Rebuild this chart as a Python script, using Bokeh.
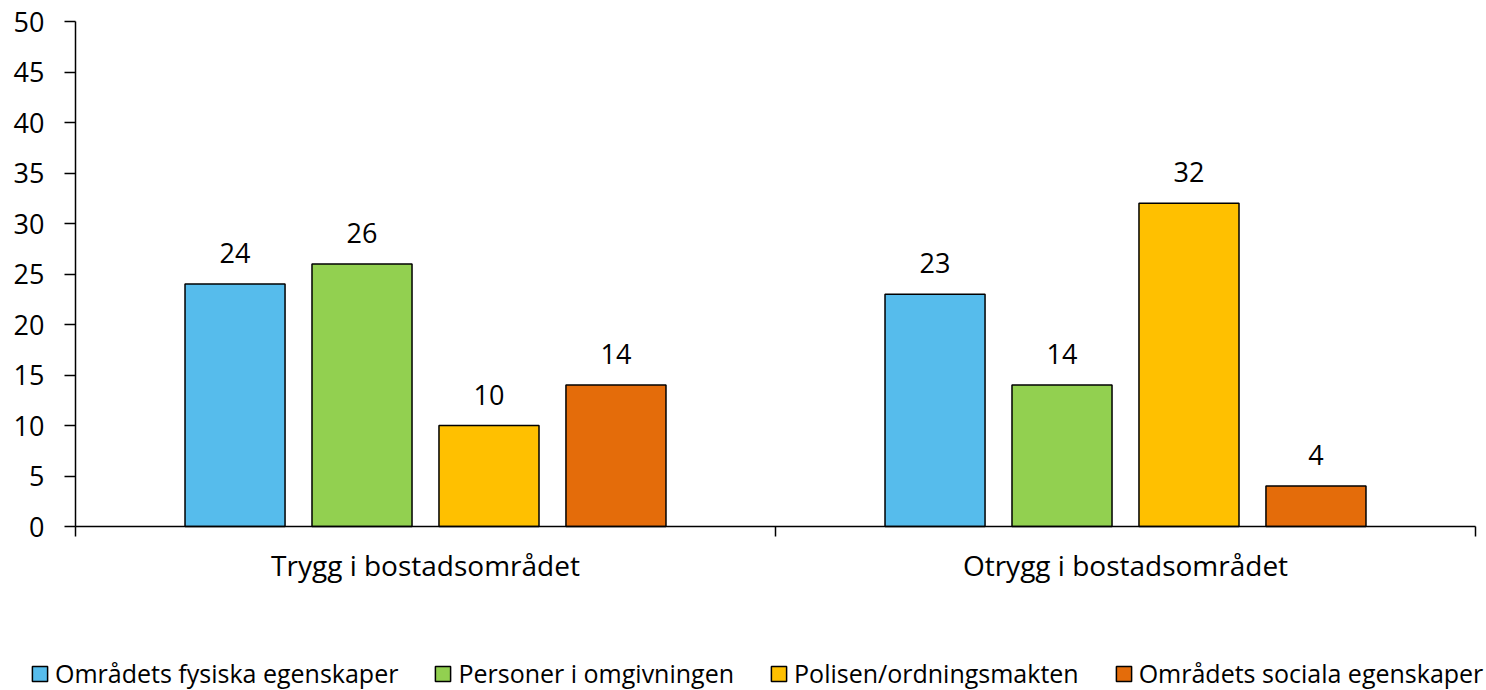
from bokeh.plotting import figure
from bokeh.models import ColumnDataSource, FixedTicker, LabelSet, Legend, LegendItem, Range1d
from bokeh.core.properties import value
from bokeh.embed import file_html
from bokeh.resources import INLINE

categories = ["Trygg i bostadsområdet", "Otrygg i bostadsområdet"]
series = ["Områdets fysiska egenskaper", "Personer i omgivningen",
          "Polisen/ordningsmakten", "Områdets sociala egenskaper"]
fysiska = [24, 23]
personer = [26, 14]
polisen = [10, 32]
sociala = [14, 4]
values = [fysiska, personer, polisen, sociala]
colors = ["#56BCEC", "#92D050", "#FFC000", "#E46C0A"]
y_ticks = list(range(0, 51, 5))

FONT = "Open Sans"

# frame covers the whole canvas; axes are pinned at x=0 / y=0
W, H = 1486, 690
px_x = 700.0   # pixels per category unit
px_y = 10.1    # pixels per value unit
x0 = -75 / px_x
y_top = 50 + 21 / px_y

p = figure(frame_width=W, frame_height=H, output_backend="svg", toolbar_location=None,
           title=None,
           x_range=Range1d(x0, x0 + W / px_x), y_range=Range1d(y_top - H / px_y, y_top),
           min_border_left=0, min_border_right=0, min_border_top=0, min_border_bottom=0)
p.outline_line_color = None
p.xgrid.visible = False
p.ygrid.visible = False
p.background_fill_color = "white"

step = 0.1814
width = 0.1429
offsets = [-1.5 * step, -0.5 * step, 0.5 * step, 1.5 * step]

items = []
for k in range(4):
    xs = [i + 0.5 + offsets[k] for i in range(len(categories))]
    src = ColumnDataSource(dict(x=xs, top=values[k], lab=[str(v) for v in values[k]]))
    r = p.vbar(x="x", top="top", width=width, bottom=0, source=src,
               fill_color=colors[k], line_color="black", line_width=1.5)
    items.append(LegendItem(label=series[k], renderers=[r]))
    labels = LabelSet(x="x", y="top", text="lab", source=src, text_align="center",
                      text_baseline="middle", y_offset=31, text_font=value(FONT),
                      text_font_size="27px", text_color="black")
    p.add_layout(labels)

# y axis
p.yaxis.fixed_location = 0
p.yaxis.bounds = (0, 50)
p.yaxis.ticker = FixedTicker(ticks=y_ticks, minor_ticks=[])
p.yaxis.major_tick_in = 0
p.yaxis.major_tick_out = 11
p.yaxis.major_label_standoff = 20
p.yaxis.axis_line_width = 1.5
p.yaxis.major_tick_line_width = 1.5
p.yaxis.major_label_text_font = FONT
p.yaxis.major_label_text_font_size = "27px"
p.yaxis.major_label_text_color = "black"
p.yaxis.axis_line_color = "black"
p.yaxis.minor_tick_line_color = None

# x axis: labels at category centres, tick marks at boundaries
p.xaxis.fixed_location = 0
p.xaxis.bounds = (0, 2)
p.xaxis.ticker = FixedTicker(ticks=[0.5, 1.5], minor_ticks=[0, 1, 2])
p.xaxis.major_label_overrides = {0.5: categories[0], 1.5: categories[1]}
p.xaxis.major_tick_line_color = None
p.xaxis.major_tick_in = 0
p.xaxis.major_tick_out = 0
p.xaxis.minor_tick_in = 0
p.xaxis.minor_tick_out = 10
p.xaxis.minor_tick_line_width = 1.5
p.xaxis.minor_tick_line_color = "black"
p.xaxis.axis_line_width = 1.5
p.xaxis.axis_line_color = "black"
p.xaxis.major_label_standoff = 9
p.xaxis.major_label_text_font = FONT
p.xaxis.major_label_text_font_size = "28px"
p.xaxis.major_label_text_color = "black"

legend = Legend(items=items, orientation="horizontal", location=(30, 0),
                label_text_font=FONT, label_text_font_size="25px",
                label_text_color="black", glyph_width=19, glyph_height=19,
                label_standoff=6, spacing=35, padding=0, margin=0,
                border_line_color=None, background_fill_alpha=0)
p.add_layout(legend, "center")

open("out.html", "w").write(file_html(p, INLINE))
